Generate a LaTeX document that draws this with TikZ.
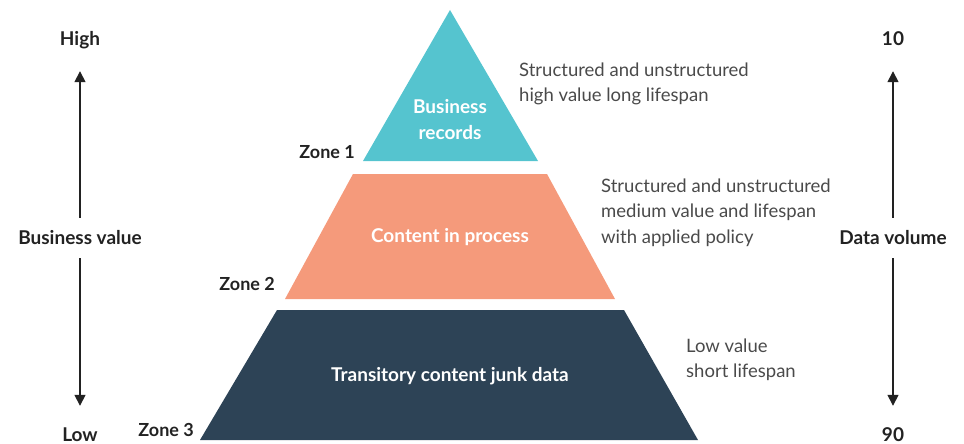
\documentclass[tikz,border=0pt]{standalone}
\usepackage{fontspec}
\setmainfont{Lato}
\usetikzlibrary{arrows.meta}
\definecolor{recteal}{HTML}{55C4CF}
\definecolor{procsalmon}{HTML}{F59A7B}
\definecolor{junknavy}{HTML}{2D4356}
\definecolor{labelblack}{HTML}{222222}
\definecolor{descgrey}{HTML}{4A4A4A}
\tikzset{
	axislabel/.style={font=\fontsize{19}{22}\selectfont\bfseries, text=labelblack, inner sep=0pt, text height=13pt, text depth=4pt},
	zonelabel/.style={axislabel, font=\fontsize{18}{22}\selectfont\bfseries, anchor=east},
	layertext/.style={font=\fontsize{19}{26}\selectfont\bfseries, text=white, align=center},
	desctext/.style={font=\fontsize{18.5}{25.5}\selectfont, text=descgrey, align=left, anchor=west, inner sep=0pt},
	axisarrow/.style={-{Triangle[width=11pt,length=11pt]}, line width=1.5pt, labelblack}
}
\begin{document}
\begin{tikzpicture}[x=1pt,y=-1pt]
	\useasboundingbox (0,0) rectangle (964,444);
	
	% Pyramide
	\fill[recteal] (450,10) -- (538,161) -- (363,161) -- cycle;
	\fill[procsalmon] (353,174) -- (547,174) -- (615,299) -- (285,299) -- cycle;
	\fill[junknavy] (277,310) -- (624,310) -- (698,440) -- (200,440) -- cycle;
	\node[layertext] (records) at (450,120) {Business\\records};
	\node[layertext] (process) at (450,237) {Content in process};
	\node[layertext] (junk) at (450,376) {Transitory content junk data};
	
	% Zonen
	\node[zonelabel] (zone1) at (355,154) {Zone 1};
	\node[zonelabel] (zone2) at (275,286) {Zone 2};
	\node[zonelabel] (zone3) at (194,432) {Zone 3};
	
	% Beschreibungen
	\node[desctext] (desc1) at (519,84) {Structured and unstructured\\high value long lifespan};
	\node[desctext] (desc2) at (601,212.5) {Structured and unstructured\\medium value and lifespan\\with applied policy};
	\node[desctext] (desc3) at (686,360) {Low value\\short lifespan};
	
	% Business value
	\node[axislabel] (high) at (80,41) {High};
	\node[axislabel] (bvalue) at (80,240) {Business value};
	\node[axislabel] (low) at (80,437) {Low};
	\draw[axisarrow, shorten <=13.5pt, shorten >=21.5pt] (bvalue) -- (high);
	\draw[axisarrow, shorten <=9.5pt, shorten >=22.5pt] (bvalue) -- (low);
	
	% Data volume
	\node[axislabel] (ten) at (893,41) {10};
	\node[axislabel] (dvolume) at (893,240) {Data volume};
	\node[axislabel] (ninety) at (893,437) {90};
	\draw[axisarrow, shorten <=13.5pt, shorten >=21.5pt] (dvolume) -- (ten);
	\draw[axisarrow, shorten <=9.5pt, shorten >=22.5pt] (dvolume) -- (ninety);
	
\end{tikzpicture}
\end{document}
